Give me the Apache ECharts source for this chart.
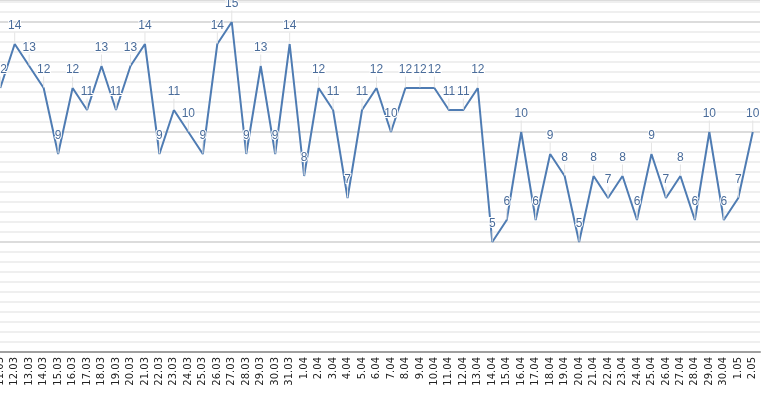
<!DOCTYPE html>
<html><head><meta charset="utf-8">
<script src="https://cdn.jsdelivr.net/npm/echarts@6/dist/echarts.min.js"></script>
<style>html,body{margin:0;padding:0;background:#fff;overflow:hidden;width:775px;height:394px}#c{width:782px;height:394px;margin-left:-7px}</style>
</head><body><div id="c"></div>
<script>
const categories = ['11.03','12.03','13.03','14.03','15.03','16.03','17.03','18.03','19.03','20.03','21.03','22.03','23.03','24.03','25.03','26.03','27.03','28.03','29.03','30.03','31.03','1.04','2.04','3.04','4.04','5.04','6.04','7.04','8.04','9.04','10.04','11.04','12.04','13.04','14.04','15.04','16.04','17.04','18.04','19.04','20.04','21.04','22.04','23.04','24.04','25.04','26.04','27.04','28.04','29.04','30.04','1.05','2.05'];
const values = [12,14,13,12,9,12,11,13,11,13,14,9,11,10,9,14,15,9,13,9,14,8,12,11,7,11,12,10,12,12,12,11,11,12,5,6,10,6,9,8,5,8,7,8,6,9,7,8,6,10,6,7,10];
const yMin = 0, yMax = 16, yInterval = 5;

const chart = echarts.init(document.getElementById('c'), null, {renderer:'canvas'});
chart.setOption({
  animation:false,
  grid:{left:0, right:15, top:0, bottom:42, containLabel:false},
  xAxis:{
    type:'category', data:categories, boundaryGap:true,
    axisLine:{lineStyle:{color:'#a0a0a0', width:2}},
    axisTick:{show:false},
    axisLabel:{rotate:90, interval:0, fontFamily:'DejaVu Sans', fontSize:10, color:'#222', margin:5}
  },
  yAxis:{
    type:'value', min:yMin, max:yMax, interval:yInterval,
    axisLabel:{show:false}, axisLine:{show:false}, axisTick:{show:false},
    splitLine:{lineStyle:{color:'#dcdcdc', width:2}},
    minorTick:{show:false, splitNumber:11},
    minorSplitLine:{show:true, lineStyle:{color:'#efefef', width:2}}
  },
  series:[{
    type:'line', data:values, symbol:'circle', symbolSize:1, showSymbol:true,
    itemStyle:{color:'rgba(0,0,0,0)', borderWidth:0},
    lineStyle:{color:'#4f7cb3', width:2},
    label:{show:true, position:'top', distance:4, fontFamily:'Liberation Sans', fontSize:12, color:'#4a6c9a',
      textBorderColor:'#fff', textBorderWidth:2},
    labelLayout:{dy:-8},
    labelLine:{show:true, lineStyle:{color:'#e4e4e4', width:1}}
  }]
});
</script></body></html>
